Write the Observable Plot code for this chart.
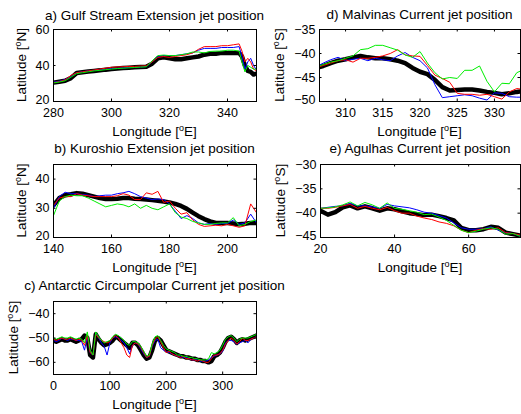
<!DOCTYPE html>
<html><head><meta charset="utf-8">
<script src="https://cdn.jsdelivr.net/npm/d3@7"></script>
<script src="https://cdn.jsdelivr.net/npm/@observablehq/plot@0.6"></script>
<style>
html,body{margin:0;padding:0;background:#fff;}
#chart{position:relative;width:521px;height:414px;overflow:hidden;}
#chart svg{position:absolute;}
</style></head><body><div id="chart"></div>
<script>
// ---------- a) Gulf Stream Extension ----------
const aLon   = [280,282,284,286,288,290,292,294,296,298,300,302,304,306,308,310,312,314,316,318,320,322,324,326,328,330,332,334,336,338,340,342,344,345,346,347,348,349,350];
const aBlack = [30.5,31,31.5,33,35.8,36.3,36.7,37,37.3,37.7,38,38.3,38.6,38.8,39,39.2,39.3,41,44,44.5,44,43.5,43.5,44,44.5,45,46,46.5,46.5,47,47,47,47,45,40,37,36.5,35,35.5];
const aRed   = [30.5,31,32,34.5,36,36.5,37,37.5,38,38.5,39,39.2,39.3,39.5,39.5,39.7,39.8,42,44.5,45,44.5,45,45.5,46,47,49,50.5,50.5,50.5,51,51,51.5,52,48,42,44,42,38,37];
const aBlue  = [30.8,31.3,32.2,34,36,36.5,37,37.3,37.6,38,38.3,38.5,38.7,38.9,39,39.2,39.4,42,45,45.5,45.5,45.5,46,46.5,47,48.5,49.5,49.5,49.5,50,50,50,50.5,45,38,42,44,40,37.5];
const aGreen = [30.3,30.8,31.5,33.5,35.5,36,36.5,37,37.3,37.7,38,38.3,38.5,38.7,38.9,39.1,39.3,42.5,45.5,45.8,45.5,45.5,46,46.5,47.5,47.5,47,47.8,48,48,48.5,48.5,48,42,36.5,40,39,38,38];

// ---------- d) Malvinas Current ----------
const dLon   = [306,307,308,309,310,311,312,313,314,315,316,317,318,319,320,321,322,323,324,325,326,327,328,329,330,331,332,333,334];
const dBlack = [-43,-42.6,-42,-41.5,-41.2,-40.8,-40.5,-40.8,-41,-41,-41.2,-41.5,-42,-43,-43.8,-44.3,-45.5,-47,-47.7,-47.6,-47.5,-47.5,-47.7,-48,-48.2,-48.5,-48.3,-48,-47.8];
const dRed   = [-43,-42.5,-42,-41.5,-41.3,-41.8,-41,-41,-40.8,-40.5,-40,-39.2,-40.3,-40.5,-40.6,-42.5,-44.5,-45.2,-46,-48.3,-48.5,-48.5,-48.7,-48.5,-49,-49.5,-48,-47.3,-47.5];
const dBlue  = [-42.8,-42,-41.3,-40.8,-41.5,-41.2,-41,-41.5,-41,-41.3,-41.5,-40.5,-39.8,-40.8,-41.5,-43,-46.5,-49.2,-49,-48.8,-48.6,-48.8,-49.3,-49.7,-48.2,-48.3,-49,-49.1,-49.1];
const dGreen = [-42.8,-42.3,-41.8,-41.5,-41,-40.5,-39.2,-39,-38.3,-38.3,-38.8,-39.3,-40.3,-40.8,-39.6,-42,-44,-45.3,-45,-45.2,-43.5,-43.5,-42.6,-45.8,-48,-46.2,-46.3,-44,-43.3];

// ---------- b) Kuroshio Extension ----------
const bLon   = [140,142,144,146,148,150,152,154,156,158,160,162,164,166,168,170,172,174,176,178,180,182,184,186,188,190,192,194,196,198,200,202,204,206,208,210];
const bBlack = [31,33.5,34.5,34.8,35.2,35,34.5,34,33.5,33.2,33.2,33.3,33.5,33.5,33.3,33.2,33,32.8,32.6,32.3,32,31.5,30.8,29.8,28.5,27.3,26.3,25.5,25,25,25,24.8,24.5,24.7,25,25];
const bRed   = [31,33.5,34,34,35,34.5,34.3,34,34,34,34,34.3,35,34.5,33,33,35.3,34.8,35.8,32,32.5,30,28,28.5,26,24.5,23.8,24,24.2,24,24.5,24,23.5,24,31.5,28.5];
const bBlue  = [30,34,35.5,35,35,34.7,34.5,34,34.3,34.5,34.5,35,35.3,35.8,35,34,33.5,33,33.2,33,31.5,29,26.5,27.5,26.5,25,24.5,24.8,24.5,24.8,24.8,26,24.5,25,28,25];
const bGreen = [27.5,32.5,34,34.5,34.3,34.3,33.5,32.5,31.5,30.5,31,31.5,31.2,30.5,31.5,30,31,30,29.5,30.5,31.5,28.5,27,26.5,25.5,25,24.5,24.5,24.8,25,25,26.8,24,24.5,25.5,26];

// ---------- e) Agulhas Current ----------
const eLon   = [20,22,24,26,28,30,32,34,36,38,40,42,44,46,48,50,52,54,56,58,60,62,64,66,68,70,72,74];
const eBlack = [-39.5,-40.3,-39.8,-38.8,-38.4,-39,-38.6,-39,-39.5,-39,-39.2,-39.6,-40,-40.2,-40.4,-40.3,-40.6,-41,-41.5,-43,-43.5,-43.5,-43.3,-42.8,-43,-44,-44.3,-44.6];
const eRed   = [-39,-39,-38.8,-38.5,-38.2,-39,-38.6,-39,-39.3,-38.8,-39.5,-40,-40,-40.6,-41,-41.3,-41.8,-42.1,-42.6,-43.5,-44,-43.5,-43.2,-43.3,-43,-44,-44.2,-44.5];
const eBlue  = [-39,-38.8,-38.6,-38.5,-38,-38.5,-38.5,-38.7,-39,-38.2,-38.5,-38.7,-38.9,-39.3,-39.8,-40,-40.5,-41,-42,-43,-43.3,-43.3,-43.2,-42.8,-43.5,-44,-44.2,-44.7];
const eGreen = [-39,-38.9,-38.7,-38.3,-37.7,-38.5,-37.8,-38.3,-39,-37.9,-39,-39.2,-39.5,-39.8,-40.3,-40.2,-40.8,-41.5,-42.5,-43.5,-44,-43.7,-43.3,-43,-43.3,-44.3,-44.2,-44.8];

// ---------- c) Antarctic Circumpolar Current ----------
const cLon   = [0,5,10,15,20,25,30,35,40,45,50,55,60,65,70,75,80,85,90,95,100,105,110,115,120,125,130,135,140,145,150,155,160,165,170,175,180,185,190,195,200,205,210,215,220,225,230,235,240,245,250,255,260,265,270,275,280,285,290,295,300,305,310,315,320,325,330,335,340,345,350,355,360];
const cBlack = [-51,-51.5,-51,-50.5,-51,-51,-50.5,-51,-51.5,-51,-50.5,-49,-50,-57,-58,-48.5,-50.5,-52,-53,-52.5,-52,-51,-49.5,-50,-51,-52,-53,-54,-52,-52,-53,-55,-57,-58.5,-58,-55,-51,-50,-51,-53,-55,-55.5,-56,-56.5,-57,-57.5,-57.5,-58,-58,-58.5,-58.5,-59,-59,-59.5,-59.5,-60,-59.5,-57.5,-57,-56,-54,-51.5,-50,-49.5,-50.5,-52,-51,-50.5,-51,-50.5,-50,-49.5,-49];
const cRed   = [-50.5,-51,-50.5,-50,-50.5,-50.5,-50,-50.5,-51,-50.5,-51,-53,-49,-56,-57,-48.5,-50,-51,-51.5,-52,-51.5,-50,-49,-50,-52,-54,-57,-58,-53,-52,-52.5,-54,-56,-58,-57.5,-53,-50.5,-49.5,-51.5,-54,-56,-55.5,-56.5,-57,-57.5,-58,-57.5,-58.5,-58.5,-59,-59,-59.5,-59,-59.5,-60,-60,-58.5,-57,-57,-56.5,-55,-52.5,-51,-50,-51,-52.5,-51.5,-50,-51,-51,-50.5,-50,-49.5];
const cBlue  = [-51,-51.5,-51,-50,-50.5,-51,-50.5,-50.5,-51,-51,-51.5,-55,-49.5,-56,-57,-48,-50,-52,-53.5,-57,-52,-50,-49.5,-50,-51,-52,-54,-56.5,-53,-52,-52.5,-54.5,-56.5,-58,-57.5,-53.5,-51,-50.5,-54,-55,-55.5,-56,-56.5,-57,-57.5,-57.5,-58,-58,-58.5,-59,-59,-59,-59.5,-59.5,-59.5,-59,-58,-57.5,-57,-56.5,-55.5,-52,-51,-51,-51.5,-52.5,-52,-51.5,-51,-52,-50.5,-50,-49.5];
const cGreen = [-50,-50.5,-50,-49.5,-50,-50,-49.5,-50,-50.5,-50,-50.5,-52,-47.5,-55,-57,-47.5,-49.5,-51,-52,-51.5,-51,-49.5,-48.5,-49,-50,-51,-52.5,-53,-51.5,-51.5,-52,-53.5,-55.5,-57.5,-57,-52.5,-49.5,-49,-51,-53,-54.5,-55,-55.5,-56,-57,-57,-57.5,-57.5,-58,-58,-58.5,-58.5,-59,-59,-59,-58.5,-56,-56.5,-56,-55,-53,-50.5,-49.5,-49,-50,-51.5,-50.5,-50,-50,-50,-49.5,-49,-48.5];

// ---------- ticks and text ----------
const aXTicks = [280,300,320,340], aYTicks = [20,40,60];
const dXTicks = [310,315,320,325,330], dYTicks = [-50,-45,-40,-35];
const bXTicks = [140,160,180,200], bYTicks = [20,30,40];
const eXTicks = [20,40,60], eYTicks = [-45,-40,-35,-30];
const cXTicks = [0,100,200,300], cYTicks = [-60,-50,-40];
const titles = ["a) Gulf Stream Extension jet position","d) Malvinas Current jet position","b) Kuroshio Extension jet position","e) Agulhas Current jet position","c) Antarctic Circumpolar Current jet position"];
const xLabel = "Longitude", yLabel = "Latitude";
const hemis = ["N","S","N","S","S"];

const FONT = '"Liberation Sans", Arial, Helvetica, sans-serif';
const root = document.getElementById("chart");

function panel(p) {
  const iw = p.width - p.ml - p.mr, ih = p.height - p.mt - p.mb, tk = 2.5;
  const series = [["black", 4.5, p.k], ["#0000ff", 1, p.b], ["#ff0000", 1, p.r], ["#00ee00", 1, p.g]];
  const y0 = p.yd[0];
  const svg = Plot.plot({
    width: p.width, height: p.height,
    marginLeft: p.ml, marginRight: p.mr, marginTop: p.mt, marginBottom: p.mb,
    x: {domain: p.xd}, y: {domain: p.yd},
    style: {fontFamily: FONT, fontSize: "12.5px", color: "black", background: "transparent", overflow: "visible"},
    marks: [
      ...series.map(([c, w, ys]) => Plot.line(p.lon, {x: p.lon, y: ys, stroke: c, strokeWidth: w, clip: true, strokeLinejoin: "round"})),
      Plot.tickX(p.xt, {x: d => d, insetTop: ih - tk, stroke: "black"}),
      Plot.tickX(p.xt, {x: d => d, insetBottom: ih - tk, stroke: "black"}),
      Plot.tickY(p.yt, {y: d => d, insetRight: iw - tk, stroke: "black"}),
      Plot.tickY(p.yt, {y: d => d, insetLeft: iw - tk, stroke: "black"}),
      Plot.frame({stroke: "black", strokeWidth: 1}),
      Plot.axisX(p.xt, {tickSize: 0, tickPadding: 7, label: null}),
      Plot.axisY(p.yt.filter(t => t !== y0), {tickSize: 0, tickPadding: 4, label: null}),
      Plot.axisY(p.yt.filter(t => t === y0), {tickSize: 0, tickPadding: 4, dy: -2, label: null})
    ]
  });
  svg.style.left = p.left + "px";
  svg.style.top = p.top + "px";
  root.appendChild(svg);
}

panel({left: 0, top: 0, width: 260, height: 140, ml: 53, mr: 4, mt: 29, mb: 39, xd: [280, 350], yd: [20, 60], xt: aXTicks, yt: aYTicks, lon: aLon, k: aBlack, r: aRed, b: aBlue, g: aGreen});
panel({left: 260, top: 0, width: 261, height: 140, ml: 59, mr: 1, mt: 29, mb: 39, xd: [306.5, 333.5], yd: [-50, -35], xt: dXTicks, yt: dYTicks, lon: dLon, k: dBlack, r: dRed, b: dBlue, g: dGreen});
panel({left: 0, top: 140, width: 260, height: 135, ml: 53, mr: 4, mt: 24, mb: 38, xd: [140, 210], yd: [20, 45], xt: bXTicks, yt: bYTicks, lon: bLon, k: bBlack, r: bRed, b: bBlue, g: bGreen});
panel({left: 260, top: 140, width: 261, height: 135, ml: 60, mr: 1, mt: 24, mb: 38, xd: [20, 74], yd: [-45, -30], xt: eXTicks, yt: eYTicks, lon: eLon, k: eBlack, r: eRed, b: eBlue, g: eGreen});
panel({left: 0, top: 275, width: 260, height: 139, ml: 53, mr: 4, mt: 26, mb: 40, xd: [0, 360], yd: [-65, -35], xt: cXTicks, yt: cYTicks, lon: cLon, k: cBlack, r: cRed, b: cBlue, g: cGreen});

// ---------- text overlay ----------
const ov = d3.create("svg").attr("width", 521).attr("height", 414)
  .style("left", "0px").style("top", "0px")
  .attr("font-family", FONT).attr("font-size", 13.5).attr("fill", "black");
// [cx, titleBaseline, xLabelBaseline, yLabelX, yLabelCy]
const pos = [[154.5, 19.5, 136, 26, 65], [419.5, 19, 136, 284, 65], [154.5, 153, 272, 26, 200.5], [420, 153, 272, 285, 200.5], [154.5, 290, 409, 18, 337.5]];
pos.forEach(([cx, tb, xb, yx, yc], i) => {
  ov.append("text").attr("x", cx).attr("y", tb).attr("text-anchor", "middle").text(titles[i]);
  const xl = ov.append("text").attr("x", cx).attr("y", xb).attr("text-anchor", "middle");
  xl.append("tspan").text(xLabel + " [");
  xl.append("tspan").attr("font-size", 9).attr("dy", -5.5).text("o");
  xl.append("tspan").attr("dy", 5.5).text("E]");
  const yl = ov.append("text").attr("transform", `translate(${yx},${yc}) rotate(-90)`).attr("text-anchor", "middle");
  yl.append("tspan").text(yLabel + " [");
  yl.append("tspan").attr("font-size", 9).attr("dy", -5.5).text("o");
  yl.append("tspan").attr("dy", 5.5).text(hemis[i] + "]");
});
root.appendChild(ov.node());
</script></body></html>
